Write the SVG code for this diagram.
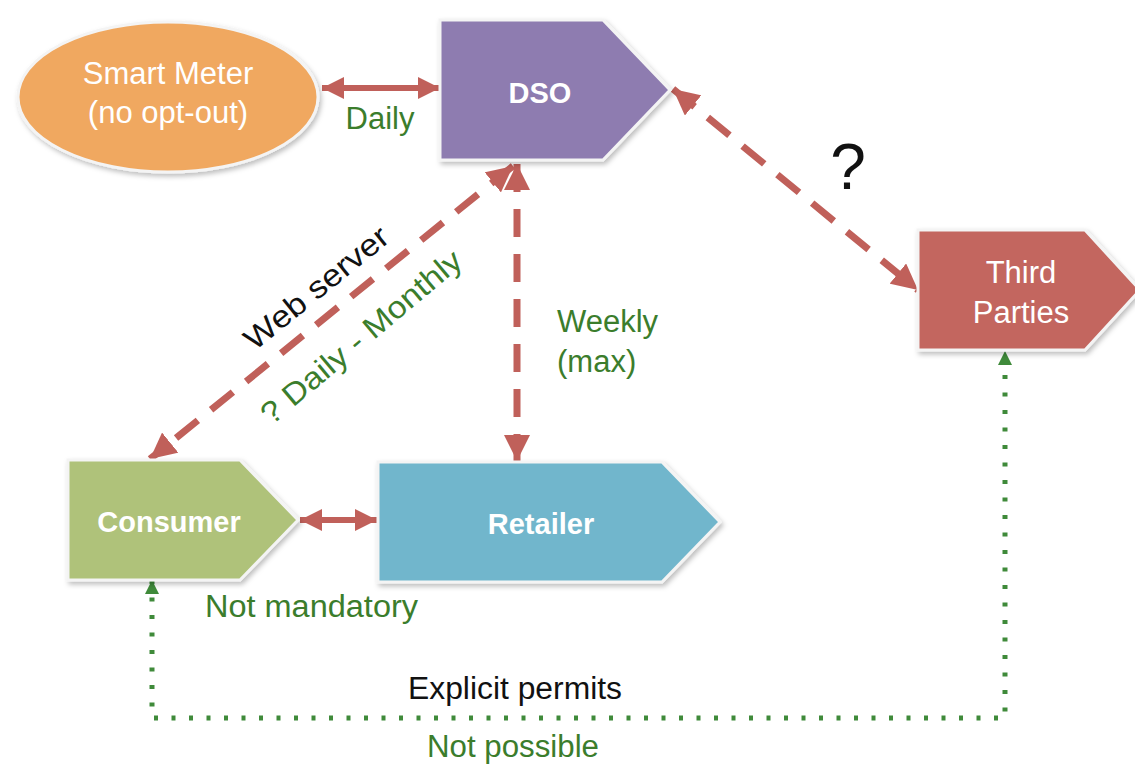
<svg xmlns="http://www.w3.org/2000/svg" width="1135" height="765" viewBox="0 0 1135 765">
  <style>
    .node-shape { stroke: #f4f4f4; stroke-width: 3; filter: url(#shadow); }
    .node-text { font-family: "Liberation Sans", Arial, sans-serif; fill: #ffffff; text-anchor: middle; font-size: 31px; }
    .bold { font-weight: bold; font-size: 29px; }
    .lbl { font-family: "Liberation Sans", Arial, sans-serif; font-size: 31px; }
    .big { font-size: 64px; }
    .green { fill: #3b7d2c; }
    .black { fill: #111111; }
    .solid { stroke: #c0605a; stroke-width: 6; fill: none; }
    .dash { stroke: #c0605a; stroke-width: 7; fill: none; stroke-dasharray: 28 17; }
    .dots { stroke: #3f8a3a; stroke-width: 5; fill: none; stroke-dasharray: 4 13.5; }
  </style>
  <defs>
    <filter id="shadow" x="-10%" y="-10%" width="125%" height="130%">
      <feDropShadow dx="2" dy="3" stdDeviation="2.5" flood-color="#000" flood-opacity="0.25"/>
    </filter>
    <marker id="redEnd" viewBox="0 0 10 10" refX="10" refY="5" markerUnits="userSpaceOnUse" markerWidth="26" markerHeight="26" orient="auto-start-reverse">
      <path d="M0,0 L10,5 L0,10 Z" fill="#c0605a"/>
    </marker>
    <marker id="redSmall" viewBox="0 0 10 10" refX="10" refY="5" markerUnits="userSpaceOnUse" markerWidth="22" markerHeight="24" orient="auto-start-reverse">
      <path d="M0,0 L10,5 L0,10 Z" fill="#c0605a"/>
    </marker>
    <marker id="greenEnd" viewBox="0 0 10 10" refX="10" refY="5" markerUnits="userSpaceOnUse" markerWidth="14" markerHeight="14" orient="auto-start-reverse">
      <path d="M0,0 L10,5 L0,10 Z" fill="#3f8a3a"/>
    </marker>
  </defs>

  <!-- connectors -->
  <g id="connectors">
    <line class="solid" x1="322" y1="88" x2="440" y2="88" marker-start="url(#redSmall)" marker-end="url(#redSmall)"/>
    <line class="solid" x1="300" y1="520" x2="377" y2="520" marker-start="url(#redSmall)" marker-end="url(#redSmall)"/>
    <line class="dash" x1="517" y1="164" x2="517" y2="461" marker-start="url(#redEnd)" marker-end="url(#redEnd)"/>
    <line class="dash" x1="513" y1="166" x2="150" y2="459" marker-start="url(#redEnd)" marker-end="url(#redEnd)"/>
    <line class="dash" x1="673" y1="89" x2="918" y2="290" marker-start="url(#redEnd)" marker-end="url(#redEnd)"/>
    <path class="dots" d="M152,580 L152,718 L1005,718 L1005,351" marker-start="url(#greenEnd)" marker-end="url(#greenEnd)"/>
  </g>

  <!-- nodes -->
  <g id="smart-meter">
    <ellipse class="node-shape" cx="168" cy="97" rx="150" ry="75" fill="#f0a860"/>
    <text class="node-text" x="168" y="84">Smart Meter</text>
    <text class="node-text" x="168" y="123">(no opt-out)</text>
  </g>
  <g id="dso">
    <path class="node-shape" d="M440,20 L603,20 L670,90 L603,160 L440,160 Z" fill="#8e7cb0"/>
    <text class="node-text bold" x="540" y="103">DSO</text>
  </g>
  <g id="third-parties">
    <path class="node-shape" d="M918,230 L1085,230 L1140,290 L1085,350 L918,350 Z" fill="#c3665f"/>
    <text class="node-text" x="1021" y="283">Third</text>
    <text class="node-text" x="1021" y="323">Parties</text>
  </g>
  <g id="consumer">
    <path class="node-shape" d="M68,460 L240,460 L298,520 L240,580 L68,580 Z" fill="#afc27a"/>
    <text class="node-text bold" x="169" y="532">Consumer</text>
  </g>
  <g id="retailer">
    <path class="node-shape" d="M378,462 L662,462 L720,522 L662,582 L378,582 Z" fill="#71b6cc"/>
    <text class="node-text bold" x="541" y="534">Retailer</text>
  </g>

  <!-- labels -->
  <g id="labels">
    <text class="lbl green" x="380" y="129" text-anchor="middle">Daily</text>
    <text class="lbl big black" x="848" y="189" text-anchor="middle">?</text>
    <text class="lbl black" transform="translate(323,296) rotate(-39)" text-anchor="middle" textLength="176" lengthAdjust="spacingAndGlyphs">Web server</text>
    <text class="lbl green" transform="translate(368,345) rotate(-40)" text-anchor="middle" textLength="252" lengthAdjust="spacingAndGlyphs">? Daily - Monthly</text>
    <text class="lbl green" x="557" y="332">Weekly</text>
    <text class="lbl green" x="557" y="372">(max)</text>
    <text class="lbl green" x="205" y="617" textLength="213" lengthAdjust="spacingAndGlyphs">Not mandatory</text>
    <text class="lbl black" x="515" y="699" text-anchor="middle" textLength="214" lengthAdjust="spacingAndGlyphs">Explicit permits</text>
    <text class="lbl green" x="513" y="757" text-anchor="middle" textLength="172" lengthAdjust="spacingAndGlyphs">Not possible</text>
  </g>
</svg>
